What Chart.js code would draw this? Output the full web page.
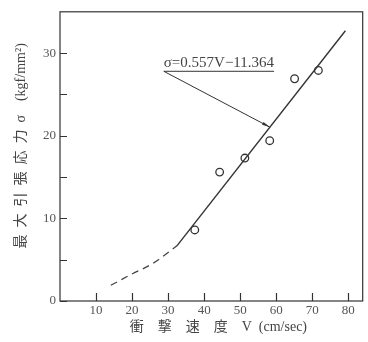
<!DOCTYPE html>
<html>
<head>
<meta charset="utf-8">
<script src="https://cdn.jsdelivr.net/npm/chart.js@4.4.1/dist/chart.umd.min.js"></script>
<style>
  html, body { margin: 0; padding: 0; background: #fff; }
  #wrap { width: 368px; height: 342px; }
</style>
</head>
<body>
<div id="wrap"><canvas id="chart"></canvas></div>
<script>
// measured points (impact speed V, max tensile stress sigma)
const speedV = [37.4, 44.3, 51.3, 58.2, 65.1, 71.7];
const stressS = [8.6, 15.6, 17.3, 19.4, 26.9, 27.9];

// fitted straight line, ends
const fitV = [32.5, 79.2];
const fitS = [6.7, 32.7];

// dashed extrapolation towards low speed
const curveV = [14.1, 20.1, 25.6, 30.7, 32.5];
const curveS = [1.9, 3.3, 4.5, 6.1, 6.7];

// axis ticks
const xTicks = [10, 20, 30, 40, 50, 60, 70, 80];
const yTicks = [0, 5, 10, 15, 20, 25, 30];
const yLabelled = [0, 10, 20, 30];

// annotation: label position and arrow target
const noteText = "σ=0.557V−11.364";
const noteFrom = [28.8, 27.8];
const noteTo = [58.2, 21.05];

const INK = "#333";
const TEXT = "#555";
const serif = "'Liberation Serif', 'Noto Sans CJK JP', serif";

const toPts = (xs, ys) => xs.map((x, i) => ({ x: x, y: ys[i] }));

// box frame + inward tick marks + the formula note
const framePlugin = {
  id: "frame",
  afterDraw(chart) {
    const { ctx, chartArea: a, scales: { x, y } } = chart;
    ctx.save();
    ctx.strokeStyle = INK;
    ctx.lineWidth = 1.2;
    ctx.strokeRect(a.left, a.top, a.right - a.left, a.bottom - a.top);

    ctx.beginPath();
    yTicks.forEach((v) => {
      const py = Math.round(y.getPixelForValue(v)) + 0.5;
      ctx.moveTo(a.left, py);
      ctx.lineTo(a.left + 7, py);
    });
    xTicks.forEach((v) => {
      const px = Math.round(x.getPixelForValue(v)) + 0.5;
      ctx.moveTo(px, a.bottom);
      ctx.lineTo(px, a.bottom - 8);
    });
    ctx.stroke();

    // formula label with underline
    const fx = x.getPixelForValue(noteFrom[0]);
    const fy = y.getPixelForValue(noteFrom[1]);
    ctx.font = "15px " + serif;
    ctx.fillStyle = "#444";
    ctx.textBaseline = "alphabetic";
    ctx.textAlign = "left";
    ctx.fillText(noteText, fx, fy - 4);
    const w = ctx.measureText(noteText).width;
    ctx.lineWidth = 1;
    ctx.beginPath();
    ctx.moveTo(fx, fy);
    ctx.lineTo(fx + w, fy);
    ctx.stroke();

    // arrow to the line
    const tx = x.getPixelForValue(noteTo[0]);
    const ty = y.getPixelForValue(noteTo[1]);
    ctx.beginPath();
    ctx.moveTo(fx, fy);
    ctx.lineTo(tx, ty);
    ctx.stroke();
    const ang = Math.atan2(ty - fy, tx - fx);
    ctx.beginPath();
    ctx.moveTo(tx, ty);
    ctx.lineTo(tx - 8 * Math.cos(ang - 0.2), ty - 8 * Math.sin(ang - 0.2));
    ctx.lineTo(tx - 8 * Math.cos(ang + 0.2), ty - 8 * Math.sin(ang + 0.2));
    ctx.closePath();
    ctx.fillStyle = INK;
    ctx.fill();
    ctx.restore();
  },
};

new Chart(document.getElementById("chart"), {
  type: "scatter",
  data: {
    datasets: [
      {
        label: "fit",
        type: "line",
        data: toPts(fitV, fitS),
        borderColor: INK,
        borderWidth: 1.4,
        pointRadius: 0,
        fill: false,
      },
      {
        label: "extrapolation",
        type: "line",
        data: toPts(curveV, curveS),
        borderColor: "#444",
        borderWidth: 1.3,
        borderDash: [7, 5],
        cubicInterpolationMode: "monotone",
        pointRadius: 0,
        fill: false,
      },
      {
        label: "measured",
        data: toPts(speedV, stressS),
        pointRadius: 3.8,
        pointBorderWidth: 1.3,
        pointBorderColor: INK,
        pointBackgroundColor: "#fff",
      },
    ],
  },
  options: {
    responsive: true,
    maintainAspectRatio: false,
    animation: false,
    layout: { padding: { top: 6, right: 3, left: 0, bottom: 0 } },
    plugins: {
      legend: { display: false },
      tooltip: { enabled: false },
    },
    scales: {
      x: {
        type: "linear",
        min: 0,
        max: 84,
        afterFit: (scale) => { scale.height = 41; },
        afterBuildTicks: (scale) => {
          scale.ticks = xTicks.map((v) => ({ value: v }));
        },
        grid: { display: false, drawTicks: false },
        border: { display: false },
        ticks: {
          padding: 2,
          color: TEXT,
          font: { family: serif, size: 13 },
        },
        title: {
          display: true,
          text: "\u2003衝\u3000撃\u3000速\u3000度\u2003V\u2002(cm/sec)",
          color: "#444",
          font: { family: serif, size: 14 },
          padding: { top: 0, bottom: 6 },
        },
      },
      y: {
        min: 0,
        max: 35,
        afterFit: (scale) => { scale.width = 60; },
        afterBuildTicks: (scale) => {
          scale.ticks = yTicks.map((v) => ({ value: v }));
        },
        grid: { display: false, drawTicks: false },
        border: { display: false },
        ticks: {
          padding: 4,
          color: TEXT,
          font: { family: serif, size: 13 },
          callback: (v) => (yLabelled.includes(v) ? v : ""),
        },
        title: {
          display: true,
          text: "\u3000\u2002最\u2002大\u2002引\u2002張\u2002応\u2002力\u2002σ\u2003(kgf/mm²)",
          color: "#444",
          font: { family: serif, size: 14 },
          padding: { top: 13, bottom: 0 },
        },
      },
    },
  },
  plugins: [framePlugin],
});
</script>
</body>
</html>
